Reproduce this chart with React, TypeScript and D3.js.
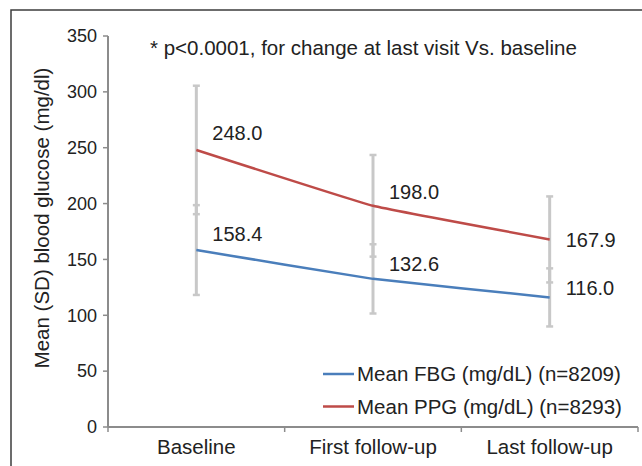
import React, { useEffect, useRef } from 'react';
import * as d3 from 'd3';

const categories = ['Baseline', 'First follow-up', 'Last follow-up'];
const fbgMean = [158.4, 132.6, 116.0];
const fbgSD = [40.2, 31.0, 26.0];
const ppgMean = [248.0, 198.0, 167.9];
const ppgSD = [57.5, 45.5, 38.5];
const yTicks = [0, 50, 100, 150, 200, 250, 300, 350];
// manual label nudges (vertical), as in the original figure
const fbgLabelDy = [-16, -15, -9];
const ppgLabelDy = [-17, -14, 1];
const legendLabels = ['Mean FBG (mg/dL) (n=8209)', 'Mean PPG (mg/dL) (n=8293)'];
const note = '* p<0.0001, for change at last visit Vs. baseline';

const App = () => {
  const svgRef = useRef<SVGSVGElement>(null);

  useEffect(() => {
    const W = 642;
    const H = 466;
    const font = 'Liberation Sans, Arial, sans-serif';
    const fs = 20.5;
    const svg = d3.select(svgRef.current).attr('width', W).attr('height', H);
    svg.selectAll('*').remove();

    const x = d3.scaleBand().domain(categories).range([108, 638]);
    const y = d3.scaleLinear().domain([0, 350]).range([427, 36]);
    const cx = (c: string) => (x(c) as number) + x.bandwidth() / 2;

    // outer frame
    svg.append('rect')
      .attr('x', 11).attr('y', 10).attr('width', 700).attr('height', 500)
      .attr('fill', 'white').attr('stroke', '#3c3c3c').attr('stroke-width', 1.5);

    const axisColor = '#8c8c8c';

    // y axis
    svg.append('line')
      .attr('x1', 108).attr('x2', 108).attr('y1', y(350)).attr('y2', y(0))
      .attr('stroke', axisColor).attr('stroke-width', 2);
    yTicks.forEach(t => {
      svg.append('line')
        .attr('x1', 103).attr('x2', 108).attr('y1', y(t)).attr('y2', y(t))
        .attr('stroke', axisColor).attr('stroke-width', 1.5);
      svg.append('text')
        .attr('x', 97).attr('y', y(t)).attr('dy', '0.35em')
        .attr('text-anchor', 'end').attr('font-family', font).attr('font-size', 18)
        .attr('fill', '#222').text(t);
    });

    // x axis
    svg.append('line')
      .attr('x1', 108).attr('x2', 638).attr('y1', y(0)).attr('y2', y(0))
      .attr('stroke', axisColor).attr('stroke-width', 2);
    [...categories.map(c => x(c) as number), 638].forEach(b => {
      svg.append('line')
        .attr('x1', b).attr('x2', b).attr('y1', y(0)).attr('y2', y(0) + 5)
        .attr('stroke', axisColor).attr('stroke-width', 1.5);
    });
    categories.forEach(c => {
      svg.append('text')
        .attr('x', cx(c)).attr('y', 447).attr('dy', '0.35em')
        .attr('text-anchor', 'middle').attr('font-family', font).attr('font-size', fs)
        .attr('fill', '#222').text(c);
    });

    // y axis title
    svg.append('text')
      .attr('transform', `translate(42, 218) rotate(-90)`)
      .attr('dy', '0.35em').attr('text-anchor', 'middle')
      .attr('font-family', font).attr('font-size', fs).attr('fill', '#222')
      .text('Mean (SD) blood glucose (mg/dl)');

    // note
    svg.append('text')
      .attr('x', 150).attr('y', 48).attr('dy', '0.35em')
      .attr('font-family', font).attr('font-size', fs).attr('fill', '#222')
      .text(note);

    const series = [
      { mean: fbgMean, sd: fbgSD, color: '#4a7ebb', dy: fbgLabelDy },
      { mean: ppgMean, sd: ppgSD, color: '#be4b48', dy: ppgLabelDy },
    ];

    // error bars
    const errColor = '#c8c8c8';
    series.forEach(s => {
      categories.forEach((c, i) => {
        const px = cx(c);
        const lo = y(s.mean[i] - s.sd[i]);
        const hi = y(s.mean[i] + s.sd[i]);
        svg.append('line')
          .attr('x1', px).attr('x2', px).attr('y1', lo).attr('y2', hi)
          .attr('stroke', errColor).attr('stroke-width', 3);
        [lo, hi].forEach(v => {
          svg.append('line')
            .attr('x1', px - 3.5).attr('x2', px + 3.5).attr('y1', v).attr('y2', v)
            .attr('stroke', errColor).attr('stroke-width', 2.5);
        });
      });
    });

    // lines (lightly smoothed, like Excel)
    const line = d3.line<number>()
      .x((_, i) => cx(categories[i]))
      .y(d => y(d))
      .curve(d3.curveCardinal.tension(0.75));

    series.forEach(s => {
      svg.append('path')
        .datum(s.mean)
        .attr('d', line)
        .attr('fill', 'none').attr('stroke', s.color).attr('stroke-width', 2.5);
    });

    // data labels
    series.forEach(s => {
      categories.forEach((c, i) => {
        svg.append('text')
          .attr('x', cx(c) + 16).attr('y', y(s.mean[i]) + s.dy[i]).attr('dy', '0.35em')
          .attr('font-family', font).attr('font-size', 20).attr('fill', '#222')
          .text(s.mean[i].toFixed(1));
      });
    });

    // legend
    series.forEach((s, i) => {
      const ly = 374 + i * 32.5;
      svg.append('line')
        .attr('x1', 323).attr('x2', 354).attr('y1', ly).attr('y2', ly)
        .attr('stroke', s.color).attr('stroke-width', 2.5);
      svg.append('text')
        .attr('x', 357).attr('y', ly).attr('dy', '0.35em')
        .attr('font-family', font).attr('font-size', fs).attr('fill', '#222')
        .text(legendLabels[i]);
    });
  }, []);

  return <svg ref={svgRef} style={{ position: 'absolute', left: 0, top: 0 }}></svg>;
};

export default App;
